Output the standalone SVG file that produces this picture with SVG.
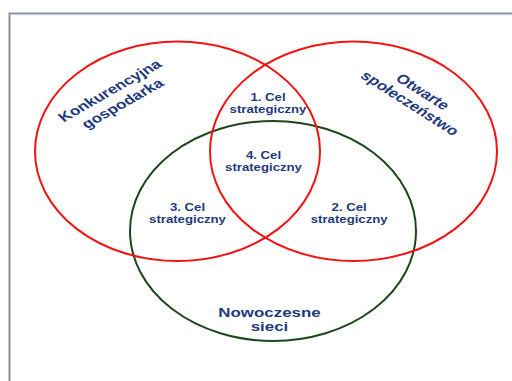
<svg xmlns="http://www.w3.org/2000/svg" width="512" height="381" viewBox="0 0 512 381">
  <style>
    .red { fill: none; stroke: #f21414; stroke-width: 2; }
    .green { fill: none; stroke: #1b471b; stroke-width: 2; }
    .lbl { font-family: "Liberation Sans", Arial, sans-serif; font-weight: bold; fill: #1f3a7c; text-anchor: middle; }
    .big { font-size: 13px; }
    .small { font-size: 10px; }
    .frame { fill: none; stroke: #8a92a5; stroke-width: 2; }
  </style>
  <rect width="512" height="381" fill="#ffffff"/>
  <path class="frame" d="M9.5 381 V13.5 H512"/>

  <g id="nowoczesne-sieci">
    <ellipse class="green" cx="273" cy="231" rx="143" ry="110"/>
    <g transform="translate(269.5,0) scale(1.3,1)">
      <text class="lbl big" x="0" y="317.5">Nowoczesne</text>
      <text class="lbl big" x="0" y="331">sieci</text>
    </g>
  </g>

  <g id="konkurencyjna-gospodarka">
    <ellipse class="red" cx="177.5" cy="151.3" rx="142.5" ry="109.7"/>
    <g transform="translate(116,97) scale(1.32,1) rotate(-37)">
      <text class="lbl big" x="0" y="-3.5">Konkurencyjna</text>
      <text class="lbl big" x="0" y="12.5">gospodarka</text>
    </g>
  </g>

  <g id="otwarte-spoleczenstwo">
    <ellipse class="red" cx="353.5" cy="151.3" rx="143.5" ry="109.7"/>
    <g transform="translate(416.5,97.5) scale(1.32,1) rotate(40)">
      <text class="lbl big" x="0" y="-3">Otwarte</text>
      <text class="lbl big" x="0" y="12">społeczeństwo</text>
    </g>
  </g>

  <g id="cel-1">
    <g transform="translate(268,0) scale(1.32,1)">
      <text class="lbl small" x="0" y="100.7">1. Cel</text>
      <text class="lbl small" x="0" y="113.3">strategiczny</text>
    </g>
  </g>

  <g id="cel-4">
    <g transform="translate(263.5,0) scale(1.32,1)">
      <text class="lbl small" x="0" y="159.5">4. Cel</text>
      <text class="lbl small" x="0" y="171.5">strategiczny</text>
    </g>
  </g>

  <g id="cel-3">
    <g transform="translate(187.5,0) scale(1.32,1)">
      <text class="lbl small" x="0" y="210.7">3. Cel</text>
      <text class="lbl small" x="0" y="223">strategiczny</text>
    </g>
  </g>

  <g id="cel-2">
    <g transform="translate(349.2,0) scale(1.32,1)">
      <text class="lbl small" x="0" y="210.7">2. Cel</text>
      <text class="lbl small" x="0" y="223">strategiczny</text>
    </g>
  </g>
</svg>
